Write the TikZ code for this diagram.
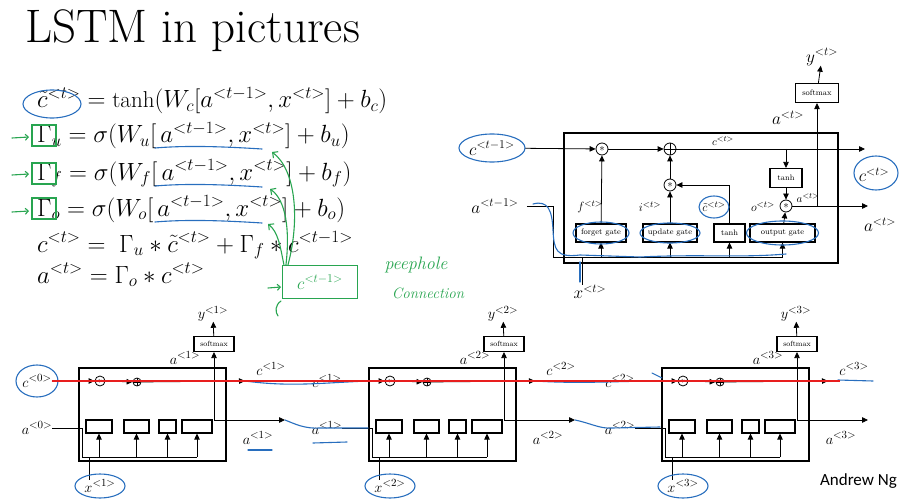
\documentclass[tikz,border=0pt]{standalone}
\usepackage{amsmath}
\usepackage{fontspec}
\newfontfamily\carlito{Carlito}
\usetikzlibrary{arrows.meta}
\definecolor{handblue}{RGB}{40,110,190}
\definecolor{handgreen}{RGB}{40,165,80}
\definecolor{handred}{RGB}{232,30,30}

\begin{document}
\begin{tikzpicture}[x=1pt, y=-1pt,
  zeq/.style={anchor=base west, inner sep=0pt, font=\fontsize{23}{27}\selectfont},
  zlab/.style={inner sep=0pt, font=\fontsize{17}{19}\selectfont},
  zbot/.style={inner sep=0pt, font=\fontsize{15}{17}\selectfont},
  zmid/.style={inner sep=0pt, font=\fontsize{13}{15}\selectfont},
  zsmall/.style={inner sep=0pt, font=\fontsize{11}{12}\selectfont},
  zgate/.style={draw, line width=1.1pt, inner sep=1pt, minimum height=18pt, font=\fontsize{8}{9}\selectfont},
  zop/.style={draw, circle, line width=.8pt, inner sep=0pt, minimum size=12pt, font=\fontsize{11}{11}\selectfont},
  zplus/.style={zop, path picture={\draw[line width=.8pt] (path picture bounding box.north) -- (path picture bounding box.south) (path picture bounding box.west) -- (path picture bounding box.east);}},
  zarr/.style={-{Triangle[length=6pt,width=5.5pt]}, line width=.8pt},
  zhand/.style={draw=handblue, line width=1.1pt, line cap=round},
  zpeep/.style={draw=handgreen, line width=1.1pt, line cap=round},
  zred/.style={draw=handred, line width=1.6pt}]
\useasboundingbox (0,0) rectangle (908,500);

\node[anchor=base west, inner sep=0pt, font=\fontsize{47}{54}\selectfont] (title) at (25,43) {LSTM in pictures};

% equations
\node[zeq] (e1) at (37,108) {$\tilde{c}^{<t>} = \tanh(W_c[a^{<t-1>}, x^{<t>}] + b_c)$};
\node[zeq] (e2) at (37,143) {$\Gamma_u = \sigma(W_u[\, a^{<t-1>}, x^{<t>}] + b_u)$};
\node[zeq] (e3) at (37,180) {$\Gamma_f = \sigma(W_f[\, a^{<t-1>}, x^{<t>}] + b_f)$};
\node[zeq] (e4) at (37,216) {$\Gamma_o = \sigma(W_o[\, a^{<t-1>}, x^{<t>}] + b_o)$};
\node[zeq] (e5) at (37,252) {$c^{<t>} = \ \Gamma_u * \tilde{c}^{<t>} + \Gamma_f * c^{<t-1>}$};
\node[zeq] (e6) at (37,283) {$a^{<t>} = \Gamma_o * c^{<t>}$};

% single cell
\draw[line width=1.3pt] (564,133) rectangle (838,263);
\node[zlab] (tcin) at (492,148) {$c^{<t-1>}$};
\node[zop] (tm1) at (602,149) {$*$};
\node[zplus] (tp1) at (670,149) {};
\coordinate (tcout) at (865,149);
\node[zsmall] (tcl) at (723,141) {$c^{<t>}$};
\node[zgate, minimum width=32pt, minimum height=19pt] (tth) at (786,178) {tanh};
\node[zop] (tm3) at (786,206) {$*$};
\coordinate (taout) at (868,206);
\node[zgate, minimum width=43pt, minimum height=19pt] (tsm) at (817,93) {softmax};
\node[zlab] (ty) at (822,57) {$y^{<t>}$};
\node[zlab] (tat) at (788,118) {$a^{<t>}$};
\node[zlab] (tar) at (880,225) {$a^{<t>}$};
\node[zlab] (tcr) at (874,175) {$c^{<t>}$};
\node[zsmall] (tas) at (808,198) {$a^{<t>}$};
\node[zgate, minimum width=50pt] (tfg) at (601,233) {forget gate};
\node[zgate, minimum width=54pt] (tug) at (670,233) {update gate};
\node[zgate, minimum width=31pt] (ttg) at (729.5,233) {tanh};
\node[zgate, minimum width=65pt] (tog) at (782.5,233) {output gate};
\node[zop] (tm2) at (670,185) {$*$};
\node[zmid] (tf) at (590,207) {$f^{<t>}$};
\node[zmid] (ti) at (650,207) {$i^{<t>}$};
\node[zmid] (tct) at (714,207) {$\tilde{c}^{<t>}$};
\node[zmid] (to) at (763,207) {$o^{<t>}$};
\node[zlab] (tain) at (495,206) {$a^{<t-1>}$};
\node[zlab] (txin) at (590,292) {$x^{<t>}$};
\coordinate (tbus) at (553,257);

\draw[zarr, shorten <=10pt] (tcin) -- (tm1);
\draw[zarr] (tm1) -- (tp1);
\draw[zarr] (tp1) -- (tcout);
\draw[zarr] (tth.north |- tp1) -- (tth);
\draw[zarr] (tth) -- (tm3);
\draw[zarr] (tog) -- (tm3);
\draw[zarr] (tm3) -- (taout);
\draw[zarr] (tsm.south |- tm3) -- (tsm);
\draw[zarr] (tsm) -- (ty);
\draw[zarr] (ttg.north) |- (tm2.east);
\draw[zarr] (tug) -- (tm2);
\draw[zarr] (tm2) -- (tp1);
\draw[zarr] (tfg) -- (tm1);
\draw[shorten <=8pt] (tain.east) -| (tbus) -- (tog.south |- tbus);
\foreach \g in {tfg,tug,ttg,tog} {\draw[zarr] (\g.south |- tbus) -- (\g);}
\draw ([xshift=-8pt]txin.north) -- ([xshift=-8pt]txin.north |- tbus);

% unrolled chain
\foreach \i/\L in {1/79,2/369,3/662}{
  \pgfmathtruncatemacro\j{\i-1}
  \draw[line width=1.2pt] (\L,368) rectangle ++(147,93);
  \coordinate (bus\i) at (\L+3,457);
  \node[zop, minimum size=10pt, font=\fontsize{9}{9}\selectfont] (m\i) at (\L+21,381) {$*$};
  \node[zplus, minimum size=8pt] (p\i) at (\L+58,382) {};
  \foreach \a/\b/\k in {7/33/1,45/70/2,80/97/3,103/133/4}
    {\node[zgate, minimum width={(\b-\a)*1pt}, minimum height=13pt] (g\i\k) at ({\L+(\a+\b)/2},426.5) {};}
  \coordinate (o\i) at (\L+135,420);
  \node[zgate, minimum width=40pt, minimum height=15pt, font=\fontsize{7.5}{8}\selectfont] (s\i) at (\L+135,344) {softmax};
  \node[zbot] (y\i) at (\L+134,314) {$y^{<\i>}$};
  \node[zbot] (at\i) at (\L+106,358) {$a^{<\i>}$};
  \node[zbot] (cin\i) at (\L-42,381) {$c^{<\j>}$};
  \node[zbot] (ain\i) at (\L-42,428) {$a^{<\j>}$};
  \node[zbot] (xin\i) at (\L+21,486) {$x^{<\i>}$};
  \coordinate (co\i) at (\L+166,381);
  \coordinate (ao\i) at (\L+206,420);
  \node[zbot] (cl\i) at (\L+192,369) {$c^{<\i>}$};
  \node[zbot] (al\i) at (\L+179,438) {$a^{<\i>}$};
  \draw[zarr] (cin\i) -- (m\i);
  \draw[zarr] (m\i) -- (p\i);
  \draw[zarr] (p\i) -- (co\i);
  \draw (ain\i.east) -| (bus\i) -- (g\i4.south |- bus\i);
  \foreach \k in {1,...,4} {\draw[zarr] (g\i\k.south |- bus\i) -- (g\i\k);}
  \draw ([xshift=-11pt]xin\i.north) -- ([xshift=-11pt]xin\i.north |- bus\i);
  \draw[zarr] (o\i) -- (s\i);
  \draw[zarr] (o\i) -- (ao\i);
  \draw[zarr] (s\i) -- (y\i);
}
\node[anchor=east, inner sep=0pt, font=\carlito\fontsize{17}{17}\selectfont] (ng) at (897,481) {Andrew Ng};

% hand notes, blue
\draw[zhand] (52,104) ellipse [x radius=29pt, y radius=14pt];
\foreach \y in {148,186,222} {\draw[zhand] (155,\y) .. controls (190,\y-3) and (230,\y-1) .. (262,\y+1);}
\draw[zhand] (tcin) ellipse [x radius=33pt, y radius=14pt];
\draw[zhand] (876,173) ellipse [x radius=22pt, y radius=17pt];
\draw[zhand] (tct) ellipse [x radius=15pt, y radius=11pt];
\draw[zhand] (tfg) ellipse [x radius=28pt, y radius=11pt];
\draw[zhand] (tug) ellipse [x radius=30pt, y radius=10pt];
\draw[zhand] (tog) ellipse [x radius=36pt, y radius=12pt];
\draw[zhand] (533,204) .. controls (548,200) and (552,210) .. (553,230) .. controls (554,250) and (556,258) .. (580,255) -- (640,257) .. controls (700,254) and (740,258) .. (786,254);
\draw[zhand] (580,262) -- (580,282);
\draw[zhand] (cin1) ellipse [x radius=21pt, y radius=16pt];
\foreach \i in {1,2,3} {\draw[zhand] (xin\i) ellipse [x radius=25pt, y radius=12pt];}
\draw[zhand] (co1) .. controls (290,387) and (320,383) .. (368,381);
\draw[zhand] (ao1) .. controls (295,424) and (305,429) .. (320,428) -- (368,428);
\draw[zhand] (248,450) -- (272,450);
\draw[zhand] (313,443) -- (347,442);
\draw[zhand] (co2) .. controls (580,384) and (620,381) .. (660,381);
\draw[zhand] (652,373) -- (662,378);
\draw[zhand] (ao2) .. controls (590,423) and (600,429) .. (612,428) -- (660,427);
\draw[zhand] (838,380) -- (873,381);

% the c path, red
\draw[zred] (cin1.east) -- ([xshift=12pt]co3);

% hand notes, green
\foreach \y in {125,163,198} {\draw[zpeep] (32,\y) rectangle ++(24,21);}
\foreach \y in {138,175,212} {\draw[zpeep, -{Straight Barb[length=3pt]}] (12,\y) -- (29,\y-1);}
\node[zpeep, draw, line width=1.1pt, minimum width=75pt, minimum height=33pt, text=handgreen, font=\fontsize{17}{19}\selectfont] (peep) at (320,282) {$c^{<t-1>}$};
\draw[zpeep, -{Straight Barb[length=4pt]}] ([xshift=6pt]peep.north west) .. controls (300,220) and (296,170) .. (272,152);
\draw[zpeep, -{Straight Barb[length=4pt]}] ([xshift=4pt]peep.north west) .. controls (290,230) and (286,200) .. (270,189);
\draw[zpeep, -{Straight Barb[length=4pt]}] ([xshift=2pt]peep.north west) .. controls (280,245) and (278,232) .. (268,224);
\draw[zpeep, -{Straight Barb[length=3pt]}] (268,288) -- (281,287);
\draw[zpeep] (281,301) .. controls (275,305) and (275,312) .. (278,316);
\node[text=handgreen, inner sep=0pt, font=\itshape\fontsize{18}{20}\selectfont] (peeptxt) at (416,265) {peephole};
\node[text=handgreen, inner sep=0pt, font=\itshape\fontsize{15}{17}\selectfont] (conntxt) at (428,293) {Connection};
\end{tikzpicture}
\end{document}
